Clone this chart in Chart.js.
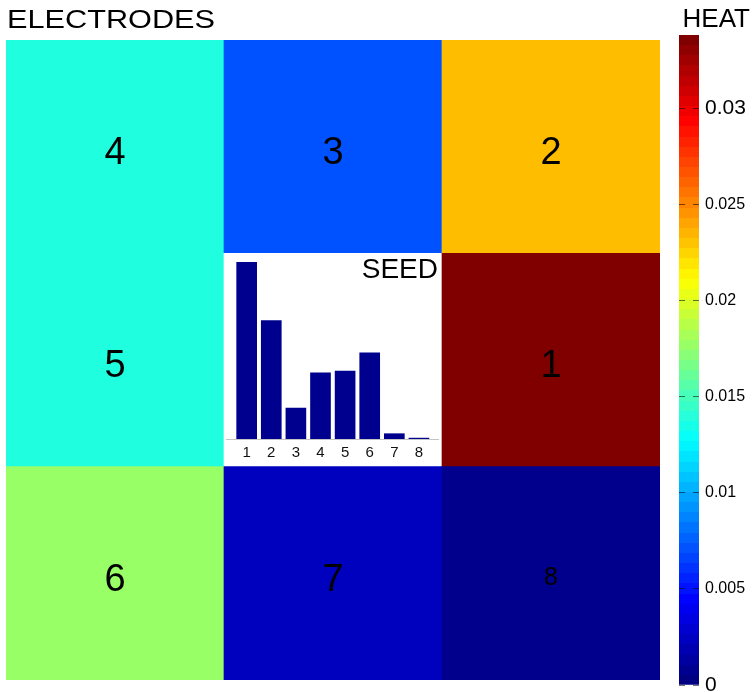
<!DOCTYPE html>
<html>
<head>
<meta charset="utf-8">
<script src="https://cdn.jsdelivr.net/npm/chart.js@4.4.1/dist/chart.umd.min.js"></script>
<style>
  html, body { margin:0; padding:0; background:#fff; }
  #wrap { position:relative; width:756px; height:692px; overflow:hidden; }
  #wrap canvas { position:absolute; }
</style>
</head>
<body>
<div id="wrap">
  <canvas id="g-grid" width="756" height="692" style="left:0;top:0"></canvas>
  <canvas id="g-seed" width="218" height="214" style="left:223px;top:252px"></canvas>
  <canvas id="g-heat" width="86" height="692" style="left:670px;top:0"></canvas>
</div>
<script>
/* Datos */
var ELECTRODES = [1, 2, 3, 4, 5, 6, 7, 8];
var HEAT       = [0.0338, 0.0233, 0.0069, 0.0137, 0.0137, 0.0177, 0.0021, 0.0004];
var HEAT_MAX   = 0.0338;
var HEAT_TICKS = [0, 0.005, 0.01, 0.015, 0.02, 0.025, 0.03];
// filas de la rejilla, de abajo hacia arriba (0 = recuadro SEED)
var GRID_ROWS  = [[6, 7, 8], [5, 0, 1], [4, 3, 2]];
var GRID_COLS  = ["izq", "centro", "der"];
var SEED_X     = [1, 2, 3, 4, 5, 6, 7, 8];
var SEED       = [1.0, 0.67, 0.175, 0.374, 0.385, 0.487, 0.03, 0.005];

var FONT = "'Liberation Sans', Arial, Helvetica, sans-serif";

// colormap jet (Matlab)
function jet(t) {
  t = Math.max(0, Math.min(1, t));
  function c(v) { return Math.round(255 * Math.max(0, Math.min(1, v))); }
  return "rgb(" + c(Math.min(4*t - 1.5, -4*t + 4.5)) + "," +
                  c(Math.min(4*t - 0.5, -4*t + 3.5)) + "," +
                  c(Math.min(4*t + 0.5, -4*t + 2.5)) + ")";
}

// textos sueltos (titulos) dibujados sobre el canvas
function captions(items) {
  return {
    id: "captions",
    afterDraw: function(chart) {
      var ctx = chart.ctx;
      items.forEach(function(it) {
        ctx.save();
        ctx.font = it.size + "px " + FONT;
        ctx.fillStyle = "#000";
        ctx.textAlign = it.align || "left";
        ctx.textBaseline = "alphabetic";
        ctx.translate(it.x, it.y);
        ctx.scale(it.stretch || 1, 1);
        ctx.fillText(it.text, 0, 0);
        ctx.restore();
      });
    }
  };
}

// numeros de electrodo en cada celda
var cellLabels = {
  id: "cellLabels",
  afterDatasetsDraw: function(chart) {
    var ctx = chart.ctx, xs = chart.scales.x, ys = chart.scales.y;
    ctx.save();
    ctx.fillStyle = "#000";
    ctx.textAlign = "center";
    ctx.textBaseline = "alphabetic";
    GRID_ROWS.forEach(function(row, r) {
      row.forEach(function(el, c) {
        if (!el) return;
        var size = el === 8 ? 25 : 38;
        ctx.font = size + "px " + FONT;
        ctx.fillText(String(el), xs.getPixelForValue(c), ys.getPixelForValue(r + 0.5) + size * 0.46);
      });
    });
    ctx.restore();
  }
};

/* Rejilla de electrodos */
new Chart(document.getElementById("g-grid"), {
  type: "bar",
  data: {
    labels: GRID_COLS,
    datasets: GRID_ROWS.map(function(row) {
      return {
        data: row.map(function() { return 1; }),
        backgroundColor: row.map(function(el) { return el ? jet(HEAT[el - 1] / HEAT_MAX) : "#ffffff"; }),
        borderWidth: 0, categoryPercentage: 1, barPercentage: 1
      };
    })
  },
  options: {
    responsive: false, animation: false, devicePixelRatio: 1,
    layout: { padding: { left: 6, top: 40, right: 96, bottom: 12 } },
    plugins: { legend: { display: false }, tooltip: { enabled: false } },
    scales: {
      x: { display: false, stacked: true },
      y: { display: false, stacked: true, min: 0, max: 3 }
    }
  },
  plugins: [cellLabels, captions([{ text: "ELECTRODES", x: 7, y: 28, size: 26, stretch: 1.18 }])]
});

/* Recuadro SEED */
new Chart(document.getElementById("g-seed"), {
  type: "bar",
  data: {
    datasets: [{
      data: SEED_X.map(function(x, i) { return { x: x, y: SEED[i] }; }),
      backgroundColor: "#00008f", barThickness: 20, borderWidth: 0
    }]
  },
  options: {
    responsive: false, animation: false, devicePixelRatio: 1,
    layout: { padding: { left: 3, right: 3, top: 5, bottom: 0 } },
    plugins: { legend: { display: false }, tooltip: { enabled: false } },
    scales: {
      x: {
        type: "linear", min: 0.16, max: 8.775, offset: false,
        afterBuildTicks: function(s) { s.ticks = SEED_X.map(function(v) { return { value: v }; }); },
        afterFit: function(s) { s.height = 27; s.paddingLeft = 0; s.paddingRight = 0; },
        grid: { display: false, drawTicks: false },
        border: { color: "#c4c4c4" },
        ticks: { padding: 5, color: "#111", maxRotation: 0, font: { size: 15, family: FONT } }
      },
      y: { display: false, min: 0, max: 1.03 }
    }
  },
  plugins: [captions([{ text: "SEED", x: 215, y: 26, size: 28, align: "right" }])]
});

/* Barra de color HEAT */
function jetGradient(c) {
  var ch = c.chart;
  if (!ch.chartArea) return "#000";
  var ys = ch.scales.y;
  var g = ch.ctx.createLinearGradient(0, ys.getPixelForValue(0), 0, ys.getPixelForValue(HEAT_MAX));
  for (var i = 0; i < 64; i++) {
    var col = jet(i / 63);
    g.addColorStop(i / 64, col);
    g.addColorStop((i + 1) / 64, col);
  }
  return g;
}

new Chart(document.getElementById("g-heat"), {
  type: "bar",
  data: {
    labels: ["HEAT"],
    datasets: [{ data: [HEAT_MAX], backgroundColor: jetGradient, borderWidth: 0, categoryPercentage: 1, barPercentage: 1 }]
  },
  options: {
    responsive: false, animation: false, devicePixelRatio: 1,
    layout: { padding: { left: 9, right: 6, top: 35, bottom: 7 } },
    plugins: { legend: { display: false }, tooltip: { enabled: false } },
    scales: {
      x: { display: false },
      y: {
        position: "right", min: 0, max: HEAT_MAX,
        afterBuildTicks: function(s) { s.ticks = HEAT_TICKS.map(function(v) { return { value: v }; }); },
        afterFit: function(s) { s.width = 51; s.paddingTop = 0; s.paddingBottom = 0; },
        grid: { drawTicks: false, color: "rgba(0,0,0,0.55)", z: 1 },
        border: { display: false, dash: [6, 8] },
        ticks: {
          padding: 6, color: "#000",
          font: function(c) {
            var v = c.tick && c.tick.value;
            return { family: FONT, size: (v === 0 || v === 0.03) ? 21 : 16 };
          },
          callback: function(v) { return String(+v.toFixed(3)); }
        }
      }
    }
  },
  plugins: [captions([{ text: "HEAT", x: 80, y: 27, size: 26, align: "right" }])]
});
</script>
</body>
</html>
